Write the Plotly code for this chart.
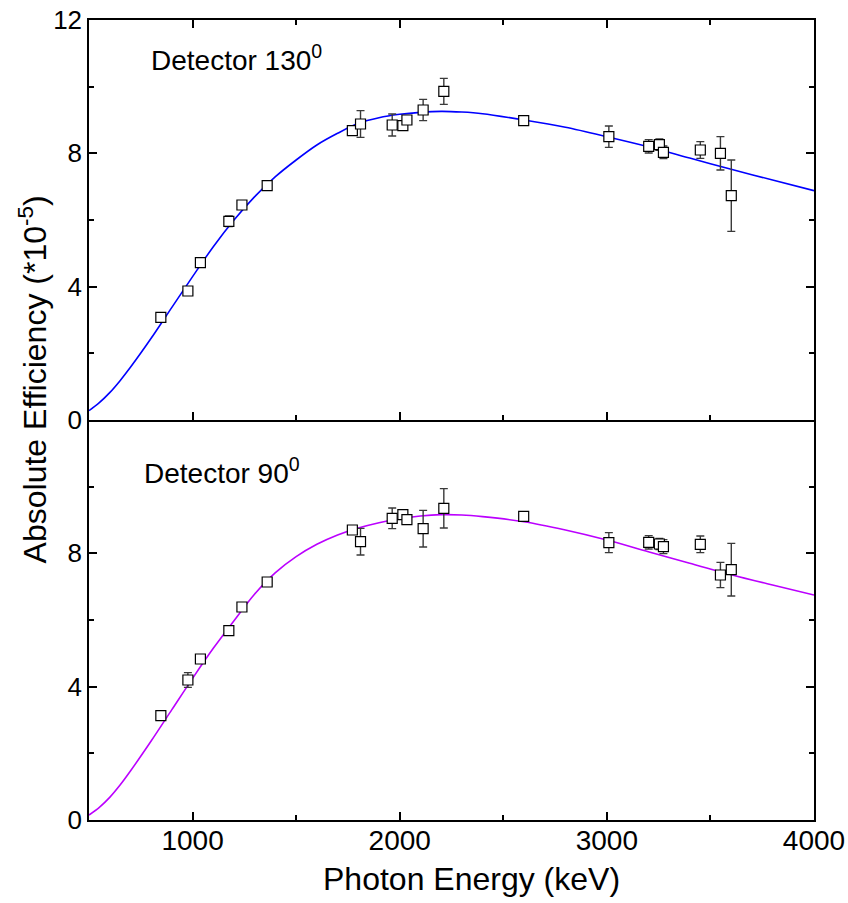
import plotly.graph_objects as go
from plotly.subplots import make_subplots

# ---- data ----
energy_keV = [846.8, 977.4, 1037.8, 1175.1, 1238.3, 1360.2, 1771.4, 1810.8, 1963.7, 2015.2,
              2034.8, 2113.1, 2212.9, 2598.5, 3009.6, 3202.0, 3253.5, 3273.1, 3451.2, 3548.3, 3600.7]

eff_130 = [3.08, 3.87, 4.72, 5.96, 6.45, 7.03, 8.68, 8.88, 8.85, 8.83,
           9.00, 9.30, 9.86, 8.98, 8.50, 8.21, 8.26, 8.03, 8.10, 8.00, 6.73]
err_130 = [0.05, 0.05, 0.06, 0.16, 0.08, 0.05, 0.06, 0.40, 0.33, 0.12,
           0.11, 0.32, 0.39, 0.08, 0.32, 0.20, 0.17, 0.19, 0.25, 0.50, 1.07]

eff_90 = [3.13, 4.20, 4.83, 5.68, 6.39, 7.14, 8.70, 8.35, 9.05, 9.16,
          9.01, 8.74, 9.35, 9.11, 8.32, 8.33, 8.28, 8.20, 8.27, 7.35, 7.51]
err_90 = [0.05, 0.22, 0.06, 0.05, 0.06, 0.04, 0.05, 0.40, 0.31, 0.10,
          0.10, 0.55, 0.59, 0.07, 0.30, 0.20, 0.17, 0.21, 0.25, 0.38, 0.79]

# fitted curves
fit_energy = [500, 550, 600, 650, 700, 800, 900, 1000, 1100, 1200, 1300, 1400, 1500, 1600, 1700, 1800,
              1900, 2000, 2100, 2200, 2300, 2400, 2600, 2800, 3000, 3200, 3400, 3600, 3800, 4000]
fit_130 = [0.28, 0.52, 0.82, 1.18, 1.58, 2.45, 3.38, 4.30, 5.20, 6.00, 6.70, 7.30, 7.80, 8.25, 8.60, 8.90,
           9.07, 9.17, 9.23, 9.26, 9.24, 9.19, 9.00, 8.78, 8.50, 8.20, 7.86, 7.52, 7.20, 6.88]
fit_90 = [0.15, 0.38, 0.68, 1.05, 1.47, 2.37, 3.31, 4.25, 5.15, 5.98, 6.78, 7.42, 7.90, 8.27, 8.55, 8.76,
          8.92, 9.04, 9.12, 9.16, 9.15, 9.10, 8.95, 8.70, 8.40, 8.05, 7.70, 7.36, 7.05, 6.75]

x_ticks = [1000, 2000, 3000, 4000]
x_minor = [1500, 2500, 3500]
y_ticks_top = [0, 4, 8, 12]
y_ticks_bot = [0, 4, 8]
y_minor = [2, 6, 10]

FONT = "Liberation Sans, Arial, sans-serif"

fig = make_subplots(rows=2, cols=1, shared_xaxes=True, vertical_spacing=0)

for row, fit, col, eff, err in [(1, fit_130, "#0000FF", eff_130, err_130),
                                 (2, fit_90, "#BB00FF", eff_90, err_90)]:
    fig.add_trace(go.Scatter(x=fit_energy, y=fit, mode="lines",
                             line=dict(color=col, width=1.6, shape="spline", smoothing=0.9),
                             showlegend=False, hoverinfo="skip"), row=row, col=1)
    fig.add_trace(go.Scatter(x=energy_keV, y=eff, mode="markers",
                             marker=dict(symbol="square", size=10, color="white",
                                         line=dict(color="black", width=1.2)),
                             error_y=dict(type="data", array=err, visible=True,
                                          color="#3a3a3a", thickness=1.4, width=4),
                             showlegend=False), row=row, col=1)

axis_common = dict(showline=True, linecolor="black", linewidth=1.5, mirror="ticks",
                   ticks="inside", ticklen=8, tickwidth=1.5, tickcolor="black",
                   showgrid=False, zeroline=False, automargin=False,
                   ticklabeloverflow="allow")

fig.update_xaxes(**axis_common, range=[500, 4000], tickvals=x_ticks,
                 tickfont=dict(family=FONT, size=28, color="black"),
                 minor=dict(tickvals=x_minor, ticks="inside", ticklen=5, tickwidth=1.5, tickcolor="black"))
fig.update_xaxes(showticklabels=False, row=1, col=1)
fig.update_xaxes(mirror=False, ticklabelstandoff=-5, row=2, col=1)

fig.update_yaxes(**axis_common, range=[0, 12],
                 tickfont=dict(family=FONT, size=26, color="black"),
                 minor=dict(tickvals=y_minor, ticks="inside", ticklen=5, tickwidth=1.5, tickcolor="black"))
fig.update_yaxes(tickvals=y_ticks_top, domain=[0.5, 1.0], row=1, col=1)
fig.update_yaxes(tickvals=y_ticks_bot, domain=[0.0, 0.5], row=2, col=1)

fig.add_annotation(text="Detector 130<sup>0</sup>", xref="paper", yref="paper",
                   x=0.083, y=0.952, xanchor="left", yanchor="middle", showarrow=False,
                   font=dict(family=FONT, size=28, color="black"))
fig.add_annotation(text="Detector 90<sup>0</sup>", xref="paper", yref="paper",
                   x=0.073, y=0.436, xanchor="left", yanchor="middle", showarrow=False,
                   font=dict(family=FONT, size=28, color="black"))
fig.add_annotation(text="Absolute Efficiency (*10<sup>-5</sup>)", xref="paper", yref="paper",
                   x=-0.077, y=0.551, xanchor="center", yanchor="middle", textangle=-90,
                   showarrow=False, font=dict(family=FONT, size=32, color="black"))
fig.add_annotation(text="Photon Energy (keV)", xref="paper", yref="paper",
                   x=0.527, y=-0.074, xanchor="center", yanchor="middle",
                   showarrow=False, font=dict(family=FONT, size=32, color="black"))

fig.update_layout(width=848, height=903, margin=dict(l=89, r=34, t=20, b=83),
                  plot_bgcolor="white", paper_bgcolor="white")

# remove the default 8px page margin so the figure fills the 848x903 window exactly
fig.write_html("out.html", config={"displayModeBar": False},
               post_script="document.body.style.margin='0';document.body.style.overflow='hidden';")
